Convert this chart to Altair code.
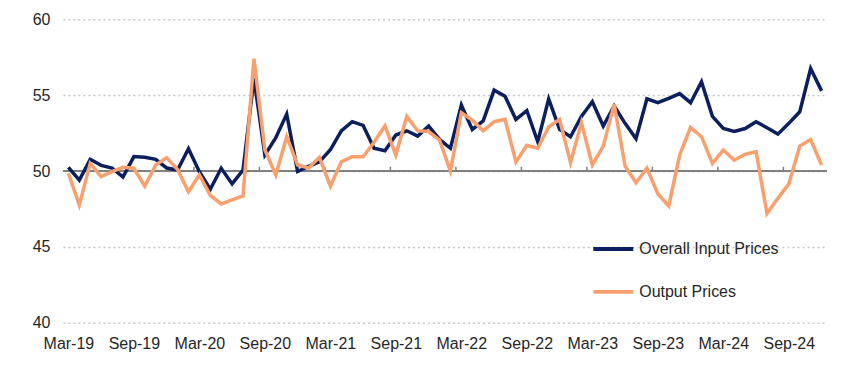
import altair as alt
import pandas as pd

# ---- data ----
tick_labels = ["Mar-19", "Sep-19", "Mar-20", "Sep-20", "Mar-21", "Sep-21",
               "Mar-22", "Sep-22", "Mar-23", "Sep-23", "Mar-24", "Sep-24"]

overall_input = [50.24, 49.4, 50.77, 50.37, 50.2, 49.6, 50.95, 50.9, 50.77, 50.2,
                 50.07, 51.47, 49.95, 48.8, 50.18, 49.15, 50.07, 56.1, 51.05, 52.2,
                 53.75, 49.97, 50.3, 50.6, 51.4, 52.65, 53.25, 53.0, 51.5, 51.34,
                 52.37, 52.65, 52.3, 52.96, 52.08, 51.5, 54.34, 52.74, 53.3, 55.33,
                 54.93, 53.4, 53.97, 51.93, 54.75, 52.74, 52.26, 53.6, 54.56, 52.96,
                 54.28, 53.14, 52.13, 54.76, 54.5, 54.78, 55.1, 54.5, 55.88, 53.6,
                 52.8, 52.6, 52.8, 53.25, 52.85, 52.43, 53.14, 53.9, 56.75, 55.28]

output_prices = [49.85, 47.76, 50.5, 49.63, 49.96, 50.24, 50.18, 49.0, 50.4, 50.88,
                 50.1, 48.64, 49.74, 48.4, 47.83, 48.1, 48.36, 57.4, 51.4, 49.74,
                 52.26, 50.4, 50.2, 50.9, 49.0, 50.6, 50.94, 50.94, 51.9, 52.98,
                 51.05, 53.6, 52.65, 52.6, 52.04, 50.0, 53.84, 53.35, 52.65, 53.25,
                 53.4, 50.6, 51.7, 51.5, 52.9, 53.4, 50.55, 53.18, 50.4, 51.64,
                 54.4, 50.33, 49.23, 50.18, 48.5, 47.7, 51.05, 52.87, 52.26, 50.5,
                 51.38, 50.72, 51.1, 51.27, 47.2, 48.2, 49.15, 51.64, 52.08, 50.4]

series_names = ["Overall Input Prices", "Output Prices"]
series_colors = ["#0B1F5E", "#F9A06E"]

n = len(overall_input)
month_idx = list(range(n))
label_positions = list(range(0, n - 3, 6))
tick_boundaries = [p - 0.5 for p in label_positions[1:]]

df = pd.DataFrame({
    "idx": month_idx * 2,
    "value": overall_input + output_prices,
    "series": [series_names[0]] * n + [series_names[1]] * n,
})
ticks_df = pd.DataFrame({"idx": tick_boundaries, "value": [50] * len(tick_boundaries),
                         "value2": [50.28] * len(tick_boundaries)})
base_df = pd.DataFrame({"value": [50]})

FONT = "Liberation Sans"
TXT = "#262626"

x_scale = alt.Scale(domain=[-0.5, n - 0.5], nice=False, zero=False)
y_scale = alt.Scale(domain=[40, 60], nice=False, zero=False)

label_expr = "[" + ",".join("'" + l + "'" for l in tick_labels) + "][round(datum.value/6)]"

x_axis = alt.Axis(values=label_positions, labelExpr=label_expr, grid=False,
                  ticks=False, domain=False, title=None, labelFontSize=16,
                  labelPadding=13, labelColor=TXT, labelFont=FONT,
                  labelOverlap=False)
y_axis = alt.Axis(values=[40, 45, 50, 55, 60], grid=True, gridDash=[2, 3],
                  gridColor="#C8C8C8", gridWidth=1.5, ticks=False,
                  domain=False, title=None, labelFontSize=16,
                  labelPadding=13, labelColor=TXT, labelFont=FONT)

lines = alt.Chart(df).mark_line(strokeWidth=3.5, strokeJoin="miter").encode(
    x=alt.X("idx:Q", scale=x_scale, axis=x_axis),
    y=alt.Y("value:Q", scale=y_scale, axis=y_axis),
    color=alt.Color("series:N",
                    scale=alt.Scale(domain=series_names, range=series_colors),
                    legend=alt.Legend(orient="none", legendX=529, legendY=208,
                                      title=None, symbolType="stroke",
                                      symbolSize=1600, symbolStrokeWidth=4,
                                      labelFontSize=16, labelFont=FONT,
                                      labelColor=TXT, rowPadding=13,
                                      labelOffset=4, padding=0)),
    order="idx:Q",
)

base_line = alt.Chart(base_df).mark_rule(color="#808080", strokeWidth=2).encode(
    y=alt.Y("value:Q", scale=y_scale, axis=y_axis)
)

ticks = alt.Chart(ticks_df).mark_rule(color="#808080", strokeWidth=1.5).encode(
    x=alt.X("idx:Q", scale=x_scale, axis=x_axis),
    y=alt.Y("value:Q", scale=y_scale, axis=y_axis),
    y2="value2:Q",
)

chart = alt.layer(base_line, ticks, lines).properties(
    width=765, height=304,
    background="white",
    autosize=alt.AutoSizeParams(type="none"),
    padding={"left": 55, "top": 11, "right": 20, "bottom": 44},
).configure_view(stroke=None)

chart.save("out.html", embed_options={"renderer": "svg", "actions": False})
